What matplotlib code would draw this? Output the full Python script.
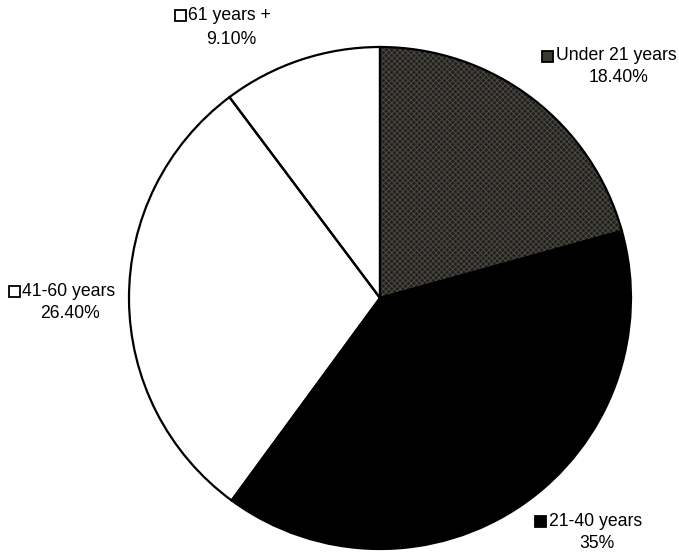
import matplotlib.pyplot as plt
from matplotlib.patches import Rectangle

# age groups and their shares (%)
labels = ['Under 21 years', '21-40 years', '41-60 years', '61 years +']
shares = [18.40, 35, 26.40, 9.10]
share_text = ['18.40%', '35%', '26.40%', '9.10%']
fills = ['#201f1b', '#000000', '#ffffff', '#ffffff']

W, H = 679, 553

plt.rcParams['font.family'] = ['Liberation Sans', 'DejaVu Sans']
plt.rcParams['hatch.linewidth'] = 0.7

fig = plt.figure(figsize=(W / 100, H / 100), dpi=100)
ax = fig.add_axes([0, 0, 1, 1])

center = (380, H - 298)
radius = 251

# base fill, with a fine cross texture on the first slice
wedges, _ = ax.pie(shares, colors=fills, startangle=90, counterclock=False,
                   center=center, radius=radius, frame=True,
                   wedgeprops=dict(linewidth=0))
wedges[0].set_hatch('xxxxxx')
wedges[0].set_edgecolor('#4a4944')

# black outlines on top
ax.pie(shares, startangle=90, counterclock=False, center=center, radius=radius,
       frame=True, wedgeprops=dict(fill=False, edgecolor='black', linewidth=1.6))
ax.set_xlim(0, W)
ax.set_ylim(0, H)
ax.set_aspect('equal')
ax.axis('off')

# label layout: square x, text x, first line y, percent centre x, percent y
layout = [
    (542, 556, 56, 619, 78),
    (535, 549, 521, 597, 543),
    (9, 22, 291, 70, 313),
    (175, 188, 15, 231, 39),
]
for i, (sx, tx, ly, px, py) in enumerate(layout):
    sq = Rectangle((sx, H - ly - 5.5), 11, 11, facecolor=fills[i],
                   edgecolor='black', linewidth=1.3)
    if i == 0:
        sq.set_facecolor('#3a3934')
    ax.add_patch(sq)
    ax.text(tx, H - ly, labels[i], ha='left', va='center', fontsize=12.7)
    ax.text(px, H - py, share_text[i], ha='center', va='center', fontsize=12.7)

fig.savefig('out.png', dpi=100)
